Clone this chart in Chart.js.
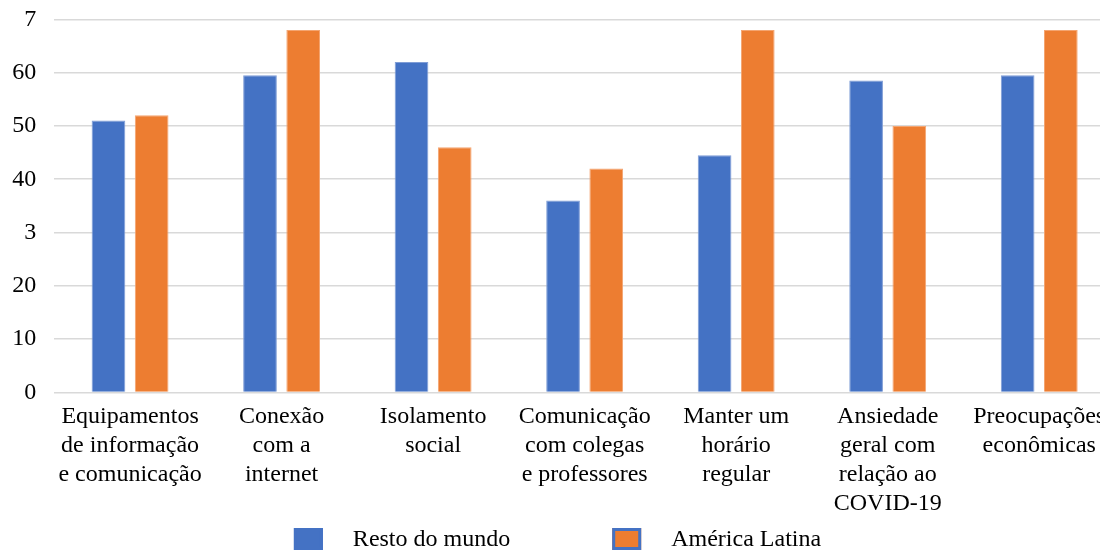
<!DOCTYPE html>
<html>
<head>
<meta charset="utf-8">
<script src="https://cdn.jsdelivr.net/npm/chart.js@4.4.1/dist/chart.umd.min.js"></script>
<style>
  html, body { margin: 0; padding: 0; background: #fff; overflow: hidden; }
  #wrap { width: 1115px; height: 554px; }
</style>
</head>
<body>
<div id="wrap"><canvas id="c"></canvas></div>
<script>
// Problem categories (multi-line axis labels)
const categories = [
  ['Equipamentos', 'de informação', 'e comunicação'],
  ['Conexão', 'com a', 'internet'],
  ['Isolamento', 'social'],
  ['Comunicação', 'com colegas', 'e professores'],
  ['Manter um', 'horário', 'regular'],
  ['Ansiedade', 'geral com', 'relação ao', 'COVID-19'],
  ['Preocupações', 'econômicas']
];
const seriesNames = ['Resto do mundo', 'América Latina'];
const restoDoMundo = [51, 59.5, 62, 36, 44.5, 58.5, 59.5];
const americaLatina = [52, 68, 46, 42, 68, 50, 68];
const yTickLabels = ['0', '10', '20', '3', '40', '50', '60', '7'];

const SERIF = "'Liberation Serif', 'Times New Roman', serif";
const BLUE = '#4472C4';
const ORANGE = '#ED7D31';

// Legend drawn under the axis labels: square swatch, wide gap, label
const bottomLegend = {
  id: 'bottomLegend',
  afterDraw(chart, args, opts) {
    const ctx = chart.ctx;
    ctx.save();
    ctx.font = opts.fontSize + 'px ' + SERIF;
    const items = chart.data.datasets.map(ds => ({
      text: ds.label,
      fill: ds.backgroundColor,
      w: opts.boxW + opts.textGap + ctx.measureText(ds.label).width
    }));
    const total = items.reduce((s, it) => s + it.w, 0) + opts.itemGap * (items.length - 1);
    let x = (chart.width - total) / 2;
    items.forEach(it => {
      ctx.fillStyle = it.fill;
      ctx.fillRect(x, opts.y, opts.boxW, opts.boxH);
      ctx.strokeStyle = opts.stroke;
      ctx.lineWidth = opts.strokeW;
      ctx.strokeRect(x + opts.strokeW / 2, opts.y + opts.strokeW / 2,
                     opts.boxW - opts.strokeW, opts.boxH - opts.strokeW);
      ctx.fillStyle = '#000';
      ctx.textBaseline = 'middle';
      ctx.textAlign = 'left';
      ctx.fillText(it.text, x + opts.boxW + opts.textGap, opts.y + opts.boxH / 2 + 1);
      x += it.w + opts.itemGap;
    });
    ctx.restore();
  }
};

new Chart(document.getElementById('c'), {
  type: 'bar',
  data: {
    labels: categories,
    datasets: [
      {
        label: seriesNames[0],
        data: restoDoMundo,
        backgroundColor: BLUE,
        borderColor: '#7f9dd6',
        borderWidth: 1
      },
      {
        label: seriesNames[1],
        data: americaLatina,
        backgroundColor: ORANGE,
        borderColor: '#f4a571',
        borderWidth: 1
      }
    ]
  },
  options: {
    responsive: true,
    maintainAspectRatio: false,
    animation: false,
    devicePixelRatio: 1,
    layout: { padding: { top: 19.3, right: 0, bottom: 0, left: 0 } },
    datasets: { bar: { categoryPercentage: 0.57, barPercentage: 0.78 } },
    plugins: {
      legend: { display: false },
      tooltip: { enabled: false },
      bottomLegend: {
        y: 528, boxW: 29, boxH: 22, textGap: 30, itemGap: 102,
        fontSize: 24, stroke: BLUE, strokeW: 3
      }
    },
    scales: {
      x: {
        offset: true,
        grid: { display: false },
        border: { display: false },
        ticks: {
          font: { family: SERIF, size: 24, lineHeight: 1.2 },
          color: '#000',
          padding: 2,
          maxRotation: 0,
          autoSkip: false
        },
        afterFit(s) { s.height = 161.5; }
      },
      y: {
        min: 0,
        max: 70,
        grid: { color: '#d9d9d9', lineWidth: 1.5, drawTicks: false },
        border: { display: false },
        ticks: {
          stepSize: 10,
          font: { family: SERIF, size: 24 },
          color: '#000',
          padding: 18,
          callback: (v, i) => yTickLabels[i]
        },
        afterFit(s) {
          s.width = 54.3;
          s.paddingTop = 0;
          s.paddingBottom = 0;
        }
      }
    }
  },
  plugins: [bottomLegend]
});
</script>
</body>
</html>
